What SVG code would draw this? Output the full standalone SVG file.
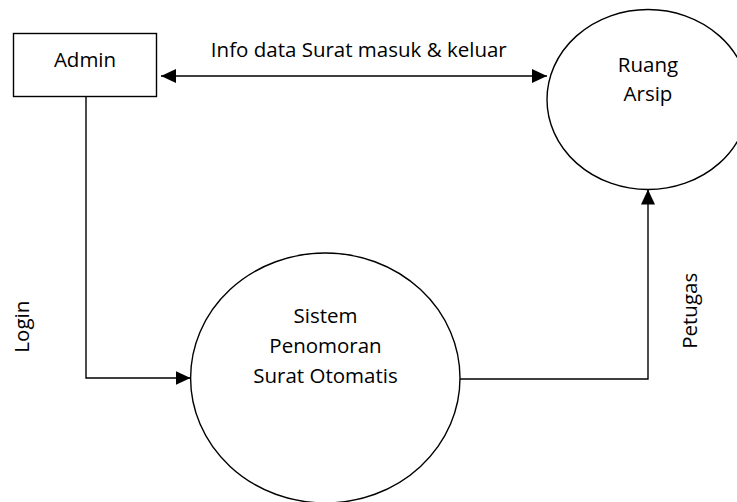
<svg xmlns="http://www.w3.org/2000/svg" width="737" height="502" viewBox="0 0 737 502">
<style>
.shape{fill:#fff;stroke:#000;stroke-width:1.4}
.conn{fill:none;stroke:#000;stroke-width:1.4}
.lbl{font-family:"Open Sans","Liberation Sans",sans-serif;font-size:20.5px;fill:#000;text-anchor:middle}
</style>
<defs>
<marker id="arr" markerUnits="userSpaceOnUse" markerWidth="15" markerHeight="14" refX="15" refY="7" orient="auto-start-reverse" viewBox="0 0 15 14">
<path d="M0,0 L15,7 L0,14 z" fill="#000"/>
</marker>
</defs>
<rect width="737" height="502" fill="#fff"/>
<g id="connectors">
<line class="conn" x1="161" y1="76" x2="547" y2="76" marker-start="url(#arr)" marker-end="url(#arr)"/>
<path class="conn" d="M86,97 V378 H190.5" marker-end="url(#arr)"/>
<path class="conn" d="M460,379 H648 V189.5" marker-end="url(#arr)"/>
<text class="lbl" x="358.8" y="56.7">Info data Surat masuk &amp; keluar</text>
<text class="lbl" transform="translate(28.5,326.7) rotate(-90)">Login</text>
<text class="lbl" transform="translate(696.5,310.8) rotate(-90)">Petugas</text>
</g>
<g id="admin">
<rect class="shape" x="13.5" y="33.5" width="143" height="63"/>
<text class="lbl" x="85" y="66.7">Admin</text>
</g>
<g id="ruang-arsip">
<ellipse class="shape" cx="648" cy="99.5" rx="101" ry="90"/>
<text class="lbl" x="648" y="71.5">Ruang</text>
<text class="lbl" x="648" y="100.5">Arsip</text>
</g>
<g id="sistem">
<ellipse class="shape" cx="325.3" cy="378" rx="134.7" ry="125"/>
<text class="lbl" x="325.5" y="323.3">Sistem</text>
<text class="lbl" x="325.5" y="352.7">Penomoran</text>
<text class="lbl" x="325.5" y="382.7">Surat Otomatis</text>
</g>
</svg>
